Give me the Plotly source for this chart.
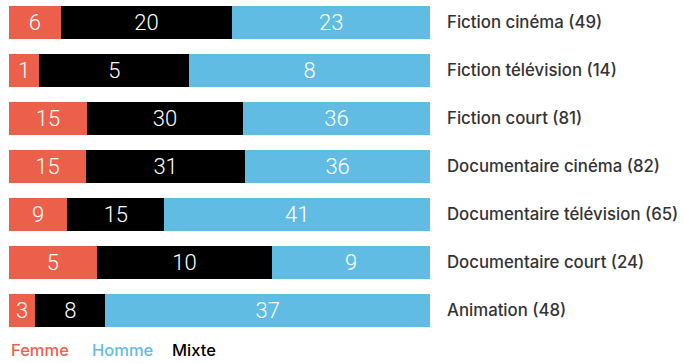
import plotly.graph_objects as go

# Films by category, split by the gender of their directing team
categories = [
    "Fiction cinéma",
    "Fiction télévision",
    "Fiction court",
    "Documentaire cinéma",
    "Documentaire télévision",
    "Documentaire court",
    "Animation",
]
femme = [6, 1, 15, 15, 9, 5, 3]
mixte = [20, 5, 30, 31, 15, 10, 8]
homme = [23, 8, 36, 36, 41, 9, 37]

totals = [f + m + h for f, m, h in zip(femme, mixte, homme)]
row_labels = [f"{c} ({t})" for c, t in zip(categories, totals)]

COL_FEMME = "#EC5F4B"
COL_HOMME = "#61BCE4"
COL_MIXTE = "#000000"

fig = go.Figure()
for name, values, color in [
    ("Femme", femme, COL_FEMME),
    ("Mixte", mixte, COL_MIXTE),
    ("Homme", homme, COL_HOMME),
]:
    fig.add_trace(go.Bar(
        y=row_labels,
        x=values,
        name=name,
        orientation="h",
        marker=dict(color=color, line=dict(width=0)),
        width=0.6875,
        text=[str(v) for v in values],
        textposition="inside",
        insidetextanchor="middle",
        textangle=0,
        constraintext="none",
        textfont=dict(family="Roboto", size=22, color="#ffffff", weight=300),
        hoverinfo="skip",
    ))

fig.update_layout(
    barmode="stack",
    barnorm="percent",
    width=684,
    height=363,
    margin=dict(l=9, r=254, t=0, b=30),
    paper_bgcolor="#ffffff",
    plot_bgcolor="#ffffff",
    showlegend=False,
    xaxis=dict(range=[0, 100], visible=False, fixedrange=True),
    yaxis=dict(
        type="category",
        categoryorder="array",
        categoryarray=row_labels,
        range=[6.46875, -0.46875],
        side="right",
        showgrid=False,
        zeroline=False,
        showline=False,
        ticks="",
        ticklabelstandoff=16,
        tickfont=dict(family="Inter", size=16.8, color="#333333", weight=500),
        fixedrange=True,
    ),
)

# Colour-coded key under the bars
for label, color, xpos in [
    ("Femme", COL_FEMME, 0.0),
    ("Homme", COL_HOMME, 0.192),
    ("Mixte", COL_MIXTE, 0.382),
]:
    fig.add_annotation(
        text=label,
        xref="paper", yref="paper",
        x=xpos, y=-0.051,
        xanchor="left", yanchor="middle",
        showarrow=False,
        font=dict(family="Inter", size=16.5, color=color, weight=500),
    )

fig.write_html("out.html")
